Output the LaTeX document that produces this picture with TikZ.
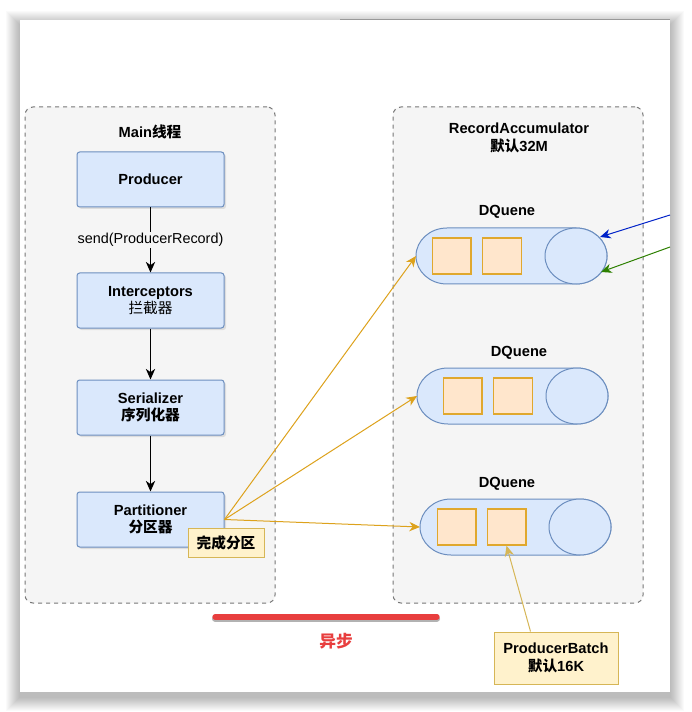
\documentclass[tikz,border=0pt]{standalone}
\usepackage{fontspec}
\setmainfont{Liberation Sans}
\newfontfamily\cjk{Noto Sans CJK SC}
\usetikzlibrary{arrows.meta,shadows}

\definecolor{boxblue}{HTML}{DAE8FC}
\definecolor{lineblue}{HTML}{6C8EBF}
\definecolor{grpfill}{HTML}{F5F5F5}
\definecolor{grpline}{HTML}{777777}
\definecolor{notefill}{HTML}{FFF2CC}
\definecolor{noteline}{HTML}{D6B656}
\definecolor{batchfill}{HTML}{FFE6CC}
\definecolor{batchline}{HTML}{E0A82E}
\definecolor{partline}{HTML}{DDA21C}
\definecolor{asyncred}{HTML}{E83E3E}
\definecolor{sendblue}{HTML}{0022C8}
\definecolor{backgreen}{HTML}{2D8000}

\begin{document}
\begin{tikzpicture}[
                x=.75pt, y=-.75pt,
                line width=.75pt,
                group/.style={draw=grpline,fill=grpfill,dashed,rounded corners=6pt,minimum width=187.5pt,minimum height=372pt},
                stage/.style={draw=lineblue,fill=boxblue,rounded corners=2pt,minimum width=110.25pt,minimum height=41.25pt,align=center,font=\bfseries\fontsize{11}{13}\selectfont,drop shadow={opacity=.2,shadow xshift=1.5pt,shadow yshift=-1.5pt}},
                note/.style={draw=noteline,fill=notefill,align=center,font=\bfseries\fontsize{11}{13}\selectfont},
                batch/.style={draw=batchline,fill=batchfill,line width=1pt,minimum width=29pt,minimum height=27pt,inner sep=0pt},
                title/.style={align=center,font=\bfseries\fontsize{11}{13}\selectfont},
                flow/.style={-{Stealth[length=8pt,width=7pt,inset=2.5pt]}}] %

\useasboundingbox (0,0) rectangle (691,712);
\fill[white] (0,0) rectangle (691,712);

% card
\foreach \s in {1,...,14}
  \fill[black,opacity=.02] ({20-\s},{20-\s+5}) rectangle ({670+\s},{692+\s+5});
\fill[white] (20,20) rectangle (670,692);
\draw[gray!80,line width=1pt] (340,19.5) -- (670,19.5);


                    % main thread
                    \node[group] (MAIN) at (150,355) {};
                    \node[title] (MAINT) at (150,132) {Main{\cjk 线程}};

                    % 1
                    \node[stage] (PROD) at (150.5,179.5) {Producer};
                    % 2
                    \node[stage] (INTER) at (150.5,300.5) {Interceptors\\{\cjk\mdseries 拦截器}};
                    % 3
                    \node[stage] (SER) at (150.5,407.5) {Serializer\\{\cjk 序列化器}};
                    % 4
                    \node[stage] (PART) at (150.5,519.5) {Partitioner\\{\cjk 分区器}};
                    \node[note,minimum width=57pt,minimum height=21.75pt] (DONE) at (226,542.5) {{\cjk 完成分区}};

                    \path [flow] (PROD) edge node[fill=grpfill,inner sep=1pt,font=\fontsize{10.8}{12}\selectfont] {send(ProducerRecord)} (INTER);
                    \path [flow] (INTER) edge (SER);
                    \path [flow] (SER) edge (PART);


                    % accumulator
                    \node[group] (ACC) at (518,355) {};
                    \node[title] (ACCT) at (519,138) {RecordAccumulator\\{\cjk 默认}32M};

                    % queue 1
                    \node[title] (DQ1) at (507,212) {DQuene};
                    \begin{scope}[shift={(416,228)}]
                      \draw[lineblue,fill=boxblue] (31,0) -- (160,0) arc[start angle=90,end angle=-90,x radius=23.25pt,y radius=21pt] -- (31,56) arc[start angle=270,end angle=90,x radius=23.25pt,y radius=21pt] -- cycle;
                      \draw[lineblue,fill=boxblue] (160,28) ellipse [x radius=23.25pt,y radius=21pt];
                      \node[batch] (Q1A) at (35.5,28) {};
                      \node[batch] (Q1B) at (86,28) {};
                      \coordinate (Q1) at (0,28);
                      \coordinate (Q1IN) at (184,9);
                      \coordinate (Q1OUT) at (185,44);
                    \end{scope}

                    % queue 2
                    \node[title] (DQ2) at (519,353) {DQuene};
                    \begin{scope}[shift={(417,368)}]
                      \draw[lineblue,fill=boxblue] (31,0) -- (160,0) arc[start angle=90,end angle=-90,x radius=23.25pt,y radius=21pt] -- (31,56) arc[start angle=270,end angle=90,x radius=23.25pt,y radius=21pt] -- cycle;
                      \draw[lineblue,fill=boxblue] (160,28) ellipse [x radius=23.25pt,y radius=21pt];
                      \node[batch] (Q2A) at (45.5,28) {};
                      \node[batch] (Q2B) at (96,28) {};
                      \coordinate (Q2) at (0,28);
                    \end{scope}

                    % queue 3
                    \node[title] (DQ3) at (507,484) {DQuene};
                    \begin{scope}[shift={(420,499)}]
                      \draw[lineblue,fill=boxblue] (31,0) -- (160,0) arc[start angle=90,end angle=-90,x radius=23.25pt,y radius=21pt] -- (31,56) arc[start angle=270,end angle=90,x radius=23.25pt,y radius=21pt] -- cycle;
                      \draw[lineblue,fill=boxblue] (160,28) ellipse [x radius=23.25pt,y radius=21pt];
                      \node[batch] (Q3A) at (36.5,28) {};
                      \node[batch] (Q3B) at (86.5,28) {};
                      \coordinate (Q3) at (0,28);
                    \end{scope}

                    % partitions
                    \path [partline, flow] (PART.east) edge (Q1);
                    \path [partline, flow] (PART.east) edge (Q2);
                    \path [partline, flow] (PART.east) edge (Q3);

                    % sender side
                    \coordinate (SENDIN) at (670,215);
                    \coordinate (SENDOUT) at (670,247);
                    \path [sendblue, flow] (SENDIN) edge (Q1IN);
                    \path [backgreen, flow] (SENDOUT) edge (Q1OUT);

                    % batch
                    \node[note,minimum width=93pt,minimum height=39pt] (BATCH) at (556,658) {ProducerBatch\\{\cjk 默认}16K};
                    \path [noteline, flow] (BATCH.north west) ++(37,0) coordinate (BATCHTOP) (BATCHTOP) edge (Q3B.south);


%%%%%%%%%%%%%%%%%%%%%%%%%%%%%%%%%%%%%%%%%%%%%%%%%%%%%%%%%%%%%%%%%%%%%%%%%%%%%%%%%%%%

                    % async
                    \draw[gray!60,line width=4.5pt,line cap=round] (215,618.5) -- (437,618.5);
                    \draw[asyncred,line width=4pt,line cap=round] (215,617) -- (437,617);
                    \node[text=asyncred,font=\bfseries\fontsize{12.5}{14}\selectfont] (ASYNC) at (336,641) {{\cjk 异步}};


\end{tikzpicture}
\end{document}
